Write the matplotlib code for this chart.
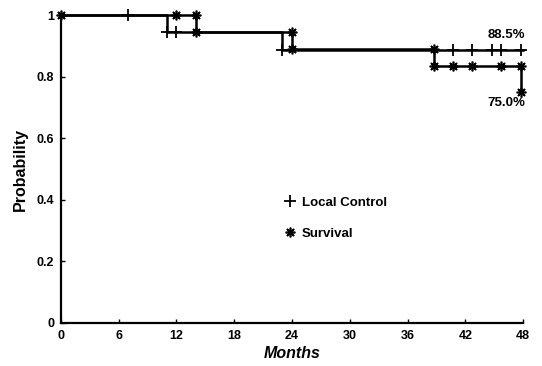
import matplotlib
matplotlib.use("Agg")
import matplotlib.pyplot as plt

# step curves (months, probability)
lc_t = [0, 11, 11, 23, 23, 48]
lc_p = [1.0, 1.0, 0.944, 0.944, 0.885, 0.885]
sv_t = [0, 14, 14, 24, 24, 38.7, 38.7, 47.8, 47.8]
sv_p = [1.0, 1.0, 0.944, 0.944, 0.889, 0.889, 0.833, 0.833, 0.75]

# censor / event marks
lc_mark_t = [7, 11, 12, 23, 40.7, 42.7, 44.8, 45.7, 47.8]
lc_mark_p = [1.0, 0.944, 0.944, 0.885, 0.885, 0.885, 0.885, 0.885, 0.885]
sv_mark_t = [0, 12, 14, 14, 24, 24, 38.7, 38.7, 40.7, 42.7, 45.7, 47.8, 47.8]
sv_mark_p = [1.0, 1.0, 1.0, 0.944, 0.944, 0.889, 0.889, 0.833, 0.833, 0.833, 0.833, 0.833, 0.75]

xticks = [0, 6, 12, 18, 24, 30, 36, 42, 48]
yticks = [0, 0.2, 0.4, 0.6, 0.8, 1.0]
ytick_labels = ["0", "0.2", "0.4", "0.6", "0.8", "1"]

plt.rcParams["font.family"] = ["Liberation Sans", "DejaVu Sans"]
plt.rcParams["font.weight"] = "bold"

fig = plt.figure(figsize=(5.42, 3.66), dpi=100)
ax = fig.add_axes([0.1125, 0.1175, 0.8525, 0.8415])

ax.plot(lc_t, lc_p, color="black", lw=1.8, clip_on=False)
ax.plot(sv_t, sv_p, color="black", lw=1.8, clip_on=False)
ax.plot(lc_mark_t, lc_mark_p, ls="none", marker="+", ms=8, mew=1.3, color="black", clip_on=False)
ax.plot(sv_mark_t, sv_mark_p, ls="none", marker=(8, 2, 0), ms=7, mew=1.2, color="black", clip_on=False)

ax.text(48.2, 0.935, "88.5%", ha="right", va="center", fontsize=9.5, fontweight="bold")
ax.text(48.2, 0.714, "75.0%", ha="right", va="center", fontsize=9.5, fontweight="bold")

ax.plot([23.8], [0.395], ls="none", marker="+", ms=8, mew=1.3, color="black")
ax.text(25, 0.39, "Local Control", ha="left", va="center", fontsize=9.5, fontweight="bold")
ax.plot([23.8], [0.295], ls="none", marker=(8, 2, 0), ms=7, mew=1.2, color="black")
ax.text(25, 0.29, "Survival", ha="left", va="center", fontsize=9.5, fontweight="bold")

ax.set_xlim(0, 48)
ax.set_ylim(0, 1)
ax.set_xticks(xticks)
ax.set_yticks(yticks)
ax.set_yticklabels(ytick_labels)
ax.tick_params(direction="in", length=3, width=1, labelsize=9, pad=5)
for lbl in ax.get_xticklabels() + ax.get_yticklabels():
    lbl.set_fontweight("bold")
for s in ["top", "right"]:
    ax.spines[s].set_visible(False)
for s in ["left", "bottom"]:
    ax.spines[s].set_linewidth(1.6)

ax.set_xlabel("Months", fontsize=11.5, fontweight="bold", style="italic", labelpad=3)
ax.set_ylabel("Probability", fontsize=11.5, fontweight="bold", labelpad=6)

fig.savefig("out.png", dpi=100)
